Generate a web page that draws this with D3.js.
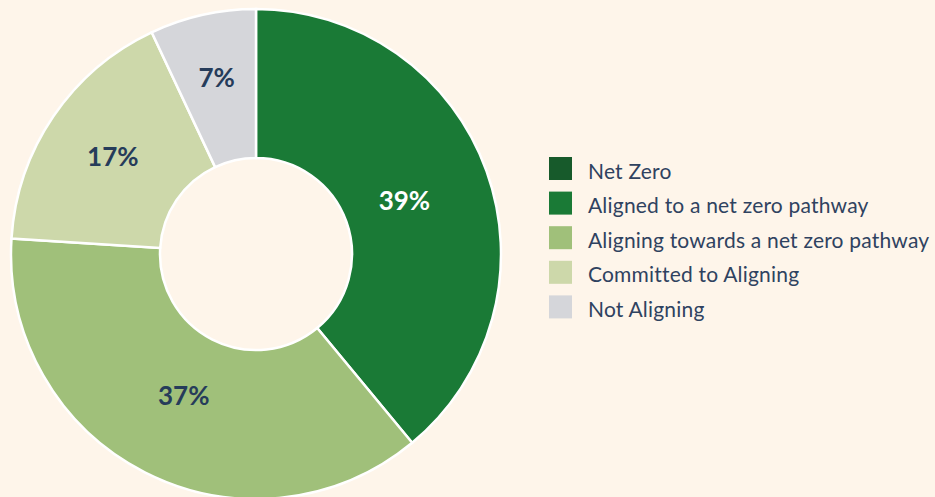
<!DOCTYPE html>
<html>
<head>
<meta charset="utf-8">
<script src="https://cdn.jsdelivr.net/npm/d3@7"></script>
<style>
  html, body { margin: 0; padding: 0; background: #fef5ea; }
  svg { display: block; }
</style>
</head>
<body>
<div id="chart"></div>
<script>
// Categories and values (percent)
var categories = ["Net Zero", "Aligned to a net zero pathway", "Aligning towards a net zero pathway", "Committed to Aligning", "Not Aligning"];
var values = [0, 39, 37, 17, 7];
var colors = ["#175a2b", "#1a7a36", "#a0c07a", "#cdd8aa", "#d5d6da"];

var width = 935, height = 497;
var cx = 256, cy = 254;
var outerR = 245, innerR = 96;

var svg = d3.select("#chart")
    .append("svg")
    .attr("width", width)
    .attr("height", height);

svg.append("rect")
    .attr("width", width)
    .attr("height", height)
    .attr("fill", "#fef5ea");

var data = categories.map(function (c, i) {
    return { name: c, value: values[i], color: colors[i] };
});

var pie = d3.pie()
    .sort(null)
    .value(d => d.value);

var arc = d3.arc()
    .innerRadius(innerR)
    .outerRadius(outerR);

var g = svg.append("g")
    .attr("transform", "translate(" + cx + "," + cy + ")");

var arcs = pie(data).filter(d => d.data.value > 0);

g.selectAll("path")
    .data(arcs)
    .enter()
    .append("path")
    .attr("d", arc)
    .attr("fill", d => d.data.color)
    .attr("stroke", "#ffffff")
    .attr("stroke-width", 2.5);

// Label radius: narrow slices push their label further out
function labelPos(d) {
    var span = d.endAngle - d.startAngle;
    var r = 150 + 35 * (1 - span / Math.PI);
    var a = (d.startAngle + d.endAngle) / 2;
    return [r * Math.sin(a), -r * Math.cos(a)];
}

// Percentage labels
g.selectAll("text.pct")
    .data(arcs)
    .enter()
    .append("text")
    .attr("class", "pct")
    .attr("transform", d => "translate(" + labelPos(d) + ")")
    .attr("dy", "0.35em")
    .attr("text-anchor", "middle")
    .style("font-family", "Lato, 'Open Sans', sans-serif")
    .style("font-weight", "bold")
    .style("font-size", "26px")
    .style("fill", d => d.data.name === "Aligned to a net zero pathway" ? "#ffffff" : "#263c5a")
    .text(d => d.data.value + "%");

// Legend
var legend = svg.append("g")
    .attr("transform", "translate(549,157)");

var item = legend.selectAll("g")
    .data(data)
    .enter()
    .append("g")
    .attr("transform", (d, i) => "translate(0," + i * 34.6 + ")");

item.append("rect")
    .attr("width", 23)
    .attr("height", 23)
    .attr("fill", d => d.color);

item.append("text")
    .attr("x", 39)
    .attr("y", 14)
    .attr("dy", "0.36em")
    .style("font-family", "Lato, 'Open Sans', sans-serif")
    .style("font-size", "21px")
    .style("letter-spacing", "0.2px")
    .style("fill", "#2f4260")
    .text(d => d.name);
</script>
</body>
</html>
